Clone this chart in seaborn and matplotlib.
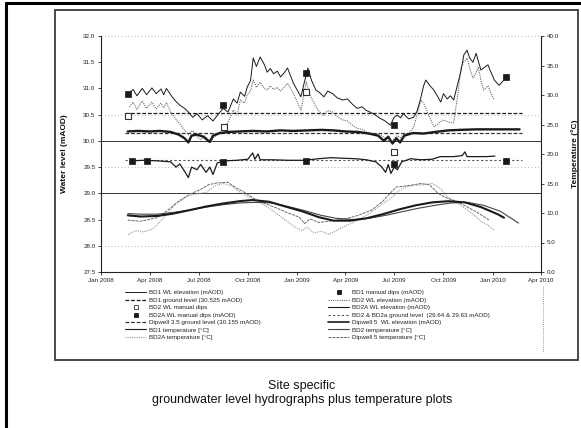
import pandas as pd
import matplotlib
matplotlib.use("Agg")
import matplotlib.pyplot as plt
import matplotlib.dates as mdates
from matplotlib.lines import Line2D
from matplotlib.ticker import FormatStrFormatter
import seaborn as sns

# ---------------------------------------------------------------- data ----
# Water levels (mAOD)
bd1_wl_dates = ["2008-02-20", "2008-03-01", "2008-03-08", "2008-03-18", "2008-03-26", "2008-04-05",
                "2008-04-13", "2008-04-22", "2008-04-27", "2008-05-02", "2008-05-12", "2008-05-20",
                "2008-05-27", "2008-06-05", "2008-06-12", "2008-06-20", "2008-06-28", "2008-07-08",
                "2008-07-18", "2008-07-28", "2008-08-06", "2008-08-16", "2008-08-25", "2008-09-04",
                "2008-09-11", "2008-09-17", "2008-09-25", "2008-09-30", "2008-10-06", "2008-10-11",
                "2008-10-17", "2008-10-24", "2008-11-01", "2008-11-06", "2008-11-12", "2008-11-18",
                "2008-11-25", "2008-12-01", "2008-12-08", "2008-12-14", "2008-12-25", "2009-01-08",
                "2009-01-14", "2009-01-21", "2009-01-28", "2009-02-05", "2009-02-12", "2009-02-20",
                "2009-02-27", "2009-03-08", "2009-03-17", "2009-03-27", "2009-04-05", "2009-04-14",
                "2009-04-23", "2009-05-02", "2009-05-10", "2009-05-17", "2009-05-26", "2009-06-05",
                "2009-06-14", "2009-06-24", "2009-07-01", "2009-07-07", "2009-07-13", "2009-07-18",
                "2009-07-28", "2009-08-06", "2009-08-12", "2009-08-18", "2009-08-25", "2009-08-29",
                "2009-09-06", "2009-09-13", "2009-09-20", "2009-09-26", "2009-10-01", "2009-10-08",
                "2009-10-14", "2009-10-20", "2009-10-28", "2009-11-03", "2009-11-08", "2009-11-14",
                "2009-11-19", "2009-11-25", "2009-12-01", "2009-12-05", "2009-12-10", "2009-12-16",
                "2009-12-23", "2009-12-29", "2010-01-04", "2010-01-09", "2010-01-13", "2010-01-18",
                "2010-01-22"]
bd1_wl = [30.90, 30.98, 30.86, 31.00, 30.88, 31.01, 30.90, 30.99, 30.88, 31.00, 30.85, 30.75,
          30.68, 30.62, 30.55, 30.45, 30.52, 30.40, 30.48, 30.38, 30.50, 30.62, 30.55, 30.80,
          30.72, 30.93, 30.85, 31.03, 31.15, 31.58, 31.42, 31.60, 31.45, 31.31, 31.38, 31.28,
          31.33, 31.22, 31.30, 31.39, 31.10, 30.84, 31.10, 31.39, 31.15, 30.97, 30.92, 30.84,
          30.95, 30.90, 30.82, 30.78, 30.80, 30.70, 30.62, 30.65, 30.58, 30.55, 30.50, 30.43,
          30.38, 30.30, 30.45, 30.49, 30.44, 30.52, 30.42, 30.45, 30.55, 30.75, 31.05, 31.16,
          31.05, 30.97, 30.85, 30.74, 30.90, 30.80, 30.86, 30.78, 31.10, 31.35, 31.64, 31.73,
          31.58, 31.50, 31.67, 31.52, 31.35, 31.40, 31.45, 31.30, 31.16, 31.10, 31.06, 31.12,
          31.16]

bd2_wl_dates = ["2008-02-23", "2008-03-01", "2008-03-08", "2008-03-18", "2008-03-26", "2008-04-05",
                "2008-04-13", "2008-04-22", "2008-04-27", "2008-05-02", "2008-05-10", "2008-05-17",
                "2008-05-27", "2008-06-05", "2008-06-12", "2008-06-20", "2008-06-28", "2008-07-05",
                "2008-07-12", "2008-07-22", "2008-07-28", "2008-08-05", "2008-08-16", "2008-08-25",
                "2008-09-04", "2008-09-11", "2008-09-17", "2008-09-25", "2008-09-30", "2008-10-06",
                "2008-10-11", "2008-10-17", "2008-10-24", "2008-11-01", "2008-11-06", "2008-11-12",
                "2008-11-18", "2008-11-25", "2008-12-01", "2008-12-08", "2008-12-14", "2008-12-25",
                "2009-01-08", "2009-01-14", "2009-01-18", "2009-01-26", "2009-02-05", "2009-02-12",
                "2009-02-20", "2009-02-27", "2009-03-08", "2009-03-17", "2009-03-27", "2009-04-05",
                "2009-04-14", "2009-04-23", "2009-05-02", "2009-05-10", "2009-05-17", "2009-05-26",
                "2009-06-05", "2009-06-14", "2009-06-24", "2009-07-01", "2009-07-07", "2009-07-13",
                "2009-07-18", "2009-07-28", "2009-08-06", "2009-08-14", "2009-08-20", "2009-08-26",
                "2009-09-03", "2009-09-13", "2009-09-20", "2009-10-01", "2009-10-10", "2009-10-20",
                "2009-10-28", "2009-11-03", "2009-11-08", "2009-11-14", "2009-11-20", "2009-11-25",
                "2009-12-01", "2009-12-05", "2009-12-10", "2009-12-15", "2009-12-23", "2009-12-29",
                "2010-01-04"]
bd2_wl = [30.65, 30.74, 30.60, 30.76, 30.62, 30.74, 30.61, 30.72, 30.63, 30.73, 30.55, 30.45,
          30.32, 30.20, 30.12, 30.20, 30.08, 30.02, 30.10, 29.98, 30.05, 30.12, 30.22, 30.35,
          30.59, 30.50, 30.78, 30.72, 30.88, 30.95, 31.16, 31.02, 31.12, 31.00, 30.97, 31.05,
          30.98, 31.02, 30.95, 31.02, 31.10, 30.90, 30.59, 30.90, 31.12, 30.85, 30.65, 30.55,
          30.49, 30.58, 30.55, 30.46, 30.40, 30.38, 30.30, 30.24, 30.22, 30.17, 30.15, 30.14,
          30.12, 30.05, 29.98, 30.04, 30.10, 30.06, 30.12, 30.15, 30.25, 30.55, 30.78, 30.70,
          30.50, 30.27, 30.32, 30.40, 30.36, 30.34, 30.90, 31.41, 31.50, 31.58, 31.35, 31.20,
          31.30, 31.41, 31.15, 30.97, 31.05, 30.90, 30.78]

bd2a_wl_dates = ["2008-02-27", "2008-03-20", "2008-04-15", "2008-05-10", "2008-05-20", "2008-05-27",
                 "2008-06-05", "2008-06-12", "2008-06-18", "2008-06-28", "2008-07-05", "2008-07-15",
                 "2008-07-22", "2008-07-28", "2008-08-05", "2008-08-20", "2008-09-10", "2008-10-01",
                 "2008-10-10", "2008-10-14", "2008-10-20", "2008-10-24", "2008-11-15", "2008-12-15",
                 "2009-01-15", "2009-02-10", "2009-03-05", "2009-03-25", "2009-04-20", "2009-05-10",
                 "2009-05-28", "2009-06-08", "2009-06-15", "2009-06-20", "2009-06-25", "2009-07-01",
                 "2009-07-07", "2009-07-15", "2009-08-01", "2009-08-20", "2009-09-10", "2009-09-25",
                 "2009-10-20", "2009-11-05", "2009-11-10", "2009-11-14", "2009-12-01", "2009-12-20",
                 "2010-01-05"]
bd2a_wl = [29.62, 29.63, 29.62, 29.60, 29.50, 29.56, 29.42, 29.30, 29.50, 29.45, 29.55, 29.40,
           29.50, 29.36, 29.58, 29.62, 29.63, 29.65, 29.77, 29.65, 29.75, 29.64, 29.64, 29.63,
           29.63, 29.66, 29.68, 29.67, 29.66, 29.64, 29.60, 29.50, 29.40, 29.55, 29.38, 29.50,
           29.45, 29.60, 29.66, 29.64, 29.65, 29.70, 29.70, 29.72, 29.79, 29.70, 29.70, 29.70,
           29.71]

dw5_wl_dates = ["2008-02-20", "2008-03-10", "2008-04-01", "2008-04-20", "2008-05-10", "2008-05-25",
                "2008-06-05", "2008-06-12", "2008-06-18", "2008-06-28", "2008-07-10", "2008-07-22",
                "2008-07-28", "2008-08-10", "2008-08-25", "2008-09-15", "2008-10-10", "2008-11-05",
                "2008-12-01", "2008-12-25", "2009-01-20", "2009-02-15", "2009-03-10", "2009-04-01",
                "2009-04-25", "2009-05-15", "2009-06-01", "2009-06-12", "2009-06-20", "2009-06-28",
                "2009-07-05", "2009-07-12", "2009-07-20", "2009-08-05", "2009-08-25", "2009-09-15",
                "2009-10-10", "2009-11-01", "2009-12-01", "2010-01-01", "2010-02-20"]
dw5_wl = [30.18, 30.19, 30.18, 30.19, 30.17, 30.12, 30.05, 29.97, 30.10, 30.12, 30.08, 29.98,
          30.10, 30.15, 30.17, 30.18, 30.19, 30.18, 30.20, 30.19, 30.20, 30.21, 30.20, 30.18,
          30.17, 30.14, 30.10, 30.00, 30.08, 29.95, 30.05, 29.97, 30.10, 30.15, 30.14, 30.17,
          30.20, 30.21, 30.22, 30.22, 30.22]

# Ground levels (mAOD)
gl_dates = ["2008-02-15", "2010-02-25"]
bd1_gl = [30.525, 30.525]
dw35_gl = [30.155, 30.155]
bd2_gl = [29.635, 29.635]

# Manual dips (mAOD)
bd1_dip_dates = ["2008-02-20", "2008-08-16", "2009-01-17", "2009-06-30", "2010-01-26"]
bd1_dips = [30.89, 30.68, 31.30, 30.30, 31.22]
bd2_dip_dates = ["2008-02-20", "2008-08-18", "2009-01-17", "2009-06-30"]
bd2_dips = [30.47, 30.27, 30.93, 29.79]
bd2a_dip_dates = ["2008-02-27", "2008-03-26", "2008-08-16", "2009-01-17", "2009-06-30", "2010-01-26"]
bd2a_dips = [29.61, 29.61, 29.60, 29.61, 29.56, 29.61]

# Temperatures (degC)
bd1_t_dates = ["2008-02-20", "2008-03-15", "2008-04-15", "2008-05-15", "2008-06-15", "2008-07-15",
               "2008-08-15", "2008-09-15", "2008-10-10", "2008-11-10", "2008-12-10", "2009-01-10",
               "2009-02-10", "2009-03-10", "2009-04-10", "2009-05-10", "2009-06-10", "2009-07-10",
               "2009-08-10", "2009-09-10", "2009-10-10", "2009-11-10", "2009-12-10", "2010-01-10",
               "2010-01-22"]
bd1_t = [9.6, 9.4, 9.5, 9.9, 10.5, 11.1, 11.6, 12.0, 12.2, 11.9, 11.1, 10.3,
         9.3, 8.7, 8.7, 9.1, 9.8, 10.6, 11.3, 11.8, 12.0, 11.8, 11.0, 9.8, 9.2]

bd2_t_dates = ["2008-02-20", "2008-03-15", "2008-04-15", "2008-05-15", "2008-06-15", "2008-07-15",
               "2008-08-15", "2008-09-15", "2008-10-15", "2008-11-15", "2008-12-15", "2009-01-15",
               "2009-02-15", "2009-03-15", "2009-04-15", "2009-05-15", "2009-06-15", "2009-07-15",
               "2009-08-15", "2009-09-15", "2009-10-15", "2009-11-15", "2009-12-15", "2010-01-15",
               "2010-02-18"]
bd2_t = [9.9, 9.8, 9.8, 10.1, 10.5, 11.0, 11.4, 11.7, 11.8, 11.7, 11.1, 10.4,
         9.6, 9.1, 8.9, 9.1, 9.6, 10.2, 10.8, 11.3, 11.7, 11.8, 11.3, 10.3, 8.3]

bd2a_t_dates = ["2008-02-20", "2008-03-05", "2008-03-20", "2008-04-05", "2008-04-20", "2008-05-05",
                "2008-05-20", "2008-06-10", "2008-06-25", "2008-07-15", "2008-08-01", "2008-08-15",
                "2008-09-01", "2008-09-15", "2008-10-01", "2008-10-20", "2008-11-10", "2008-11-25",
                "2008-12-10", "2008-12-25", "2009-01-10", "2009-01-20", "2009-02-01", "2009-02-15",
                "2009-03-01", "2009-03-15", "2009-04-01", "2009-04-20", "2009-05-10", "2009-05-25",
                "2009-06-10", "2009-06-25", "2009-07-10", "2009-07-25", "2009-08-10", "2009-08-25",
                "2009-09-10", "2009-09-25", "2009-10-10", "2009-10-25", "2009-11-10", "2009-11-25",
                "2009-12-10", "2009-12-25", "2010-01-05"]
bd2a_t = [6.3, 7.0, 6.8, 7.2, 8.5, 10.0, 11.6, 12.8, 13.2, 13.5, 14.6, 15.0,
          14.6, 13.6, 12.8, 12.0, 10.8, 9.8, 8.8, 7.8, 7.0, 7.6, 6.6, 6.9,
          6.4, 7.0, 7.8, 8.6, 9.6, 10.5, 11.6, 12.5, 13.8, 14.5, 14.7, 14.8,
          15.0, 14.2, 12.6, 11.8, 10.8, 9.8, 8.6, 7.8, 7.0]

dw5_t_dates = ["2008-02-20", "2008-03-15", "2008-04-15", "2008-05-05", "2008-05-25", "2008-06-15",
               "2008-07-05", "2008-07-20", "2008-08-05", "2008-08-25", "2008-09-10", "2008-09-25",
               "2008-10-15", "2008-11-05", "2008-11-25", "2008-12-15", "2009-01-05", "2009-01-15",
               "2009-01-25", "2009-02-10", "2009-03-01", "2009-04-01", "2009-04-25", "2009-05-20",
               "2009-06-10", "2009-06-25", "2009-07-05", "2009-07-25", "2009-08-20", "2009-09-05",
               "2009-09-20", "2009-10-05", "2009-10-25", "2009-11-15", "2009-12-05", "2009-12-25"]
dw5_t = [8.8, 8.6, 9.2, 10.5, 12.0, 13.2, 14.0, 14.8, 15.1, 15.2, 14.2, 13.5,
         12.3, 11.5, 10.8, 10.0, 9.3, 8.2, 9.0, 8.4, 8.6, 9.0, 9.6, 10.5,
         12.0, 13.5, 14.4, 14.6, 15.0, 14.8, 13.4, 12.6, 12.0, 11.0, 10.0, 8.8]

wl_ticks = [27.5, 28.0, 28.5, 29.0, 29.5, 30.0, 30.5, 31.0, 31.5, 32.0]
t_ticks = [0, 5, 10, 15, 20, 25, 30, 35, 40]

caption = "Site specific\ngroundwater level hydrographs plus temperature plots"

# --------------------------------------------------------------- style ----
sns.set_style("ticks")
plt.rcParams["font.family"] = ["Liberation Sans", "DejaVu Sans"]

W, H = 581, 428
fig = plt.figure(figsize=(W / 100, H / 100), dpi=100)


def fx(px):
    return px / W


def fy(py):
    return 1 - py / H


ax = fig.add_axes([fx(101), fy(272), fx(541) - fx(101), fy(36) - fy(272)])
ax2 = ax.twinx()

DK = "#1a1a1a"
GR = "#6a6a6a"
LG = "#9a9a9a"


def line(a, dates, vals, **kw):
    sns.lineplot(x=pd.to_datetime(dates), y=vals, ax=a, legend=False,
                 errorbar=None, estimator=None, sort=False, **kw)


# horizontal reference lines
for lev in [32.0, 30.5, 29.5, 28.0]:
    ax.axhline(lev, color=LG, lw=0.6, ls=(0, (1, 3)), zorder=1)
for lev in [30.0, 29.0]:
    ax.axhline(lev, color="#333333", lw=0.7, zorder=1)

# ground levels
line(ax, gl_dates, bd1_gl, color=DK, lw=0.9, linestyle=(0, (3, 1.5)))
line(ax, gl_dates, dw35_gl, color="#333333", lw=0.9, linestyle=(0, (3, 1.5)))
line(ax, gl_dates, bd2_gl, color="#555555", lw=0.8, linestyle=(0, (2, 2)))

# water level series
line(ax, bd2_wl_dates, bd2_wl, color=GR, lw=0.8, linestyle=(0, (1, 1)))
line(ax, bd1_wl_dates, bd1_wl, color=DK, lw=0.7)
line(ax, dw5_wl_dates, dw5_wl, color=DK, lw=1.7)
line(ax, bd2a_wl_dates, bd2a_wl, color=DK, lw=0.9)

# manual dips
sns.scatterplot(x=pd.to_datetime(bd1_dip_dates), y=bd1_dips, ax=ax, marker="s", s=13,
                color=DK, edgecolor=DK, linewidth=0.5, legend=False, zorder=5)
sns.scatterplot(x=pd.to_datetime(bd2_dip_dates), y=bd2_dips, ax=ax, marker="s", s=13,
                color="white", edgecolor="#333333", linewidth=0.8, legend=False, zorder=5)
sns.scatterplot(x=pd.to_datetime(bd2a_dip_dates), y=bd2a_dips, ax=ax, marker="s", s=13,
                color=DK, edgecolor=DK, linewidth=0.5, legend=False, zorder=5)

# temperatures on the secondary axis
line(ax2, bd2a_t_dates, bd2a_t, color=LG, lw=0.8, linestyle=(0, (1, 1)))
line(ax2, dw5_t_dates, dw5_t, color=GR, lw=0.7, linestyle=(0, (3, 1)))
line(ax2, bd2_t_dates, bd2_t, color="#444444", lw=0.8)
line(ax2, bd1_t_dates, bd1_t, color=DK, lw=1.5)

# axes limits, ticks
ax.set_xlim(pd.Timestamp("2008-01-01"), pd.Timestamp("2010-04-01"))
ax.set_ylim(27.5, 32.0)
ax2.set_ylim(0, 40)
ax.set_yticks(wl_ticks)
ax2.set_yticks(t_ticks)
ax.yaxis.set_major_formatter(FormatStrFormatter("%.1f"))
ax2.yaxis.set_major_formatter(FormatStrFormatter("%.1f"))
ax.xaxis.set_major_locator(mdates.MonthLocator(bymonth=[1, 4, 7, 10]))
ax.xaxis.set_major_formatter(mdates.DateFormatter("%b %Y"))

for a in (ax, ax2):
    a.tick_params(axis="both", direction="out", length=2, width=0.6,
                  labelsize=4.5, pad=2, colors="#222222")
    a.spines["top"].set_visible(False)
    for s in ("left", "right", "bottom"):
        a.spines[s].set_color("#222222")
        a.spines[s].set_linewidth(0.8)
ax.spines["right"].set_visible(False)
ax2.spines["left"].set_visible(False)
ax2.spines["bottom"].set_visible(False)

ax.set_xlabel("")
ax.set_ylabel("Water level (mAOD)", fontsize=6, fontweight="bold", color="#111111")
ax2.set_ylabel("Temperature (\u00b0C)", fontsize=6, fontweight="bold", color="#111111")
ax.yaxis.set_label_coords((68 - 101) / 440, 0.5)
ax2.yaxis.set_label_coords((571 - 101) / 440, 0.5)

# legend, two columns
def h_line(color, ls="-", lw=0.8):
    return Line2D([], [], color=color, linestyle=ls, linewidth=lw)


def h_mark(face, edge):
    return Line2D([], [], linestyle="none", marker="s", markersize=3.2,
                  markerfacecolor=face, markeredgecolor=edge, markeredgewidth=0.6)


left_items = [
    (h_line(DK, "-", 0.7), "BD1 WL elevation (mAOD)"),
    (h_line(DK, (0, (3, 1.5)), 0.9), "BD1 ground level (30.525 mAOD)"),
    (h_mark("white", "#333333"), "BD2 WL manual dips"),
    (h_mark(DK, DK), "BD2A WL manual dips (mAOD)"),
    (h_line("#333333", (0, (3, 1.5)), 0.9), "Dipwell 3.5 ground level (30.155 mAOD)"),
    (h_line(DK, "-", 0.8), "BD1 temperature [\u00b0C]"),
    (h_line(LG, (0, (1, 1)), 0.8), "BD2A temperature [\u00b0C]"),
]
right_items = [
    (h_mark(DK, DK), "BD1 manual dips (mAOD)"),
    (h_line(GR, (0, (1, 1)), 0.8), "BD2 WL elevation (mAOD)"),
    (h_line(DK, "-", 0.8), "BD2A WL elevation (mAOD)"),
    (h_line("#555555", (0, (2, 2)), 0.8), "BD2 & BD2a ground level  (29.64 & 29.63 mAOD)"),
    (h_line(DK, "-", 1.2), "Dipwell 5  WL elevation (mAOD)"),
    (h_line("#444444", "-", 0.8), "BD2 temperature [\u00b0C]"),
    (h_line(GR, (0, (3, 1)), 0.7), "Dipwell 5 temperature [\u00b0C]"),
]
for items, x0 in ((left_items, 125), (right_items, 328)):
    leg = fig.legend([h for h, _ in items], [t for _, t in items], loc="upper left",
                     bbox_to_anchor=(fx(x0), fy(290)), bbox_transform=fig.transFigure,
                     frameon=False, fontsize=4.5, handlelength=3.4, handletextpad=0.5,
                     labelspacing=0.33, borderpad=0, borderaxespad=0)
    for t in leg.get_texts():
        t.set_color("#222222")

# frames
fig.add_artist(Line2D([fx(543), fx(543)], [fy(286), fy(352)], color="#777777",
                      lw=0.6, ls=(0, (1, 1.5)), transform=fig.transFigure))
fig.add_artist(plt.Rectangle((fx(55), fy(360)), fx(578) - fx(55), fy(10) - fy(360),
                             fill=False, ec="#3a3a3a", lw=1.3, transform=fig.transFigure))
fig.add_artist(Line2D([fx(6), fx(6)], [0, fy(3)], color="black", lw=2.2,
                      transform=fig.transFigure))
fig.add_artist(Line2D([fx(6), 1], [fy(3), fy(3)], color="black", lw=2.2,
                      transform=fig.transFigure))

fig.text(fx(302), fy(393), caption, ha="center", va="center", fontsize=9,
         color="#111111", linespacing=1.25)

fig.savefig("out.png", dpi=100)
